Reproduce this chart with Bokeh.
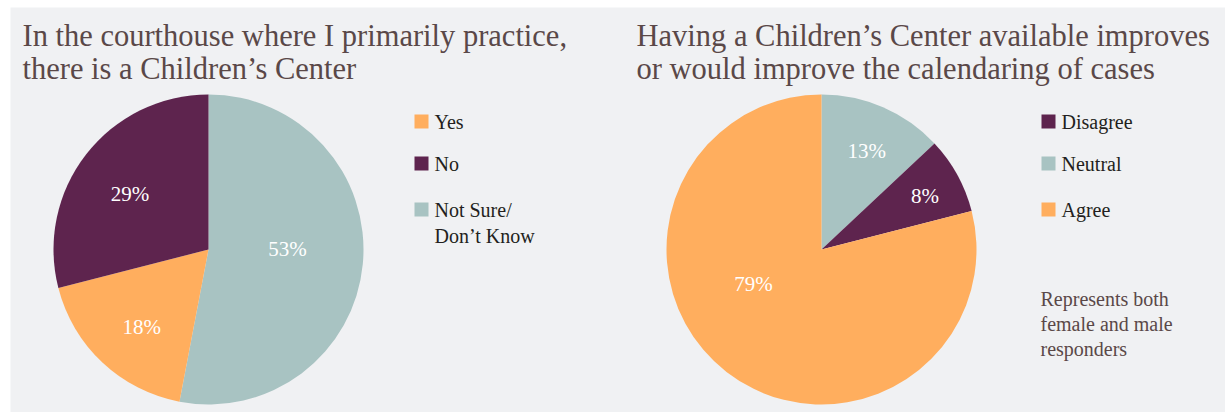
import math
from bokeh.plotting import figure
from bokeh.models import Range1d
from bokeh.core.properties import value
from bokeh.embed import file_html
from bokeh.resources import INLINE

# ---------------- data ----------------
q1_title = ["In the courthouse where I primarily practice,", "there is a Children’s Center"]
q1_categories = ["Yes", "No", "Not Sure/\nDon’t Know"]
q1_values = [18, 29, 53]
q1_slice_order = [2, 0, 1]          # clockwise from 12 o'clock

q2_title = ["Having a Children’s Center available improves", "or would improve the calendaring of cases"]
q2_categories = ["Disagree", "Neutral", "Agree"]
q2_values = [8, 13, 79]
q2_slice_order = [1, 0, 2]

note_lines = ["Represents both", "female and male", "responders"]

# ---------------- style ----------------
C_YES = "#ffae5e"
C_NO = "#5e244e"
C_NS = "#a8c3c2"
q1_colors = [C_YES, C_NO, C_NS]
q2_colors = [C_NO, C_NS, C_YES]
BG = "#f0f1f3"
TITLE_C = "#5a4848"
FONT = value("Liberation Serif")

# label placement (radius fraction, angular nudge in degrees) per category
q1_label_place = [(0.66, -2.5), (0.62, -2.6), (0.51, -6.0)]
q2_label_place = [(0.75, 1.6), (0.70, 1.3), (0.49, 25.6)]

LEFT, TOP = 10, 7
W, H = 1225, 412
FW, FH = W - LEFT, H - TOP
p = figure(width=W, height=H, x_range=Range1d(0, FW), y_range=Range1d(0, FH),
           output_backend="svg", toolbar_location=None,
           min_border_left=LEFT, min_border_top=TOP,
           min_border_right=0, min_border_bottom=0)
p.axis.visible = False
p.grid.visible = False
p.outline_line_color = None
p.background_fill_color = BG
p.border_fill_color = "white"


def sx(x):  # image pixel -> data x
    return x - LEFT


def sy(y):  # image pixel -> data y
    return H - y


R = 155


def draw_pie(cx, cy, values, colors, order, place):
    total = float(sum(values))
    a = 0.0
    for i in order:
        span = values[i] / total * 360.0
        a0, a1 = a, a + span
        p.wedge(x=[sx(cx)], y=[sy(cy)], radius=R, radius_units="screen",
                start_angle=[math.radians(90 - a0)], end_angle=[math.radians(90 - a1)],
                direction="clock", fill_color=colors[i], line_color=None)
        frac, nudge = place[i]
        mid = math.radians((a0 + a1) / 2 + nudge)
        lx = cx + frac * R * math.sin(mid)
        ly = cy - frac * R * math.cos(mid)
        p.text(x=[sx(lx)], y=[sy(ly)], text=[f"{values[i]}%"], text_font=FONT,
               text_font_size="21px", text_color="white",
               text_align="center", text_baseline="middle")
        a = a1


def draw_legend(x, ys, cats, colors):
    for yy, cat, col in zip(ys, cats, colors):
        p.rect(x=[sx(x + 7)], y=[sy(yy)], width=14, height=14,
               width_units="screen", height_units="screen",
               fill_color=col, line_color=None)
        p.text(x=[sx(x + 20)], y=[sy(yy - 11)], text=[cat], text_font=FONT,
               text_font_size="20px", text_color="#231f20",
               text_align="left", text_baseline="top", text_line_height=1.22)


def draw_title(x, lines):
    for k, t in enumerate(lines):
        p.text(x=[sx(x)], y=[sy(35 + 33 * k)], text=[t], text_font=FONT,
               text_font_size="30.5px", text_color=TITLE_C,
               text_align="left", text_baseline="alphabetic")


draw_title(22, q1_title)
draw_title(636, q2_title)

draw_pie(208, 249, q1_values, q1_colors, q1_slice_order, q1_label_place)
draw_pie(821, 249, q2_values, q2_colors, q2_slice_order, q2_label_place)

draw_legend(414, [121, 163, 209], q1_categories, q1_colors)
draw_legend(1041, [121, 163, 209], q2_categories, q2_colors)

for k, t in enumerate(note_lines):
    p.text(x=[sx(1040)], y=[sy(298 + 25 * k)], text=[t], text_font=FONT,
           text_font_size="20px", text_color=TITLE_C,
           text_align="left", text_baseline="middle")

open("out.html", "w").write(file_html(p, INLINE))
